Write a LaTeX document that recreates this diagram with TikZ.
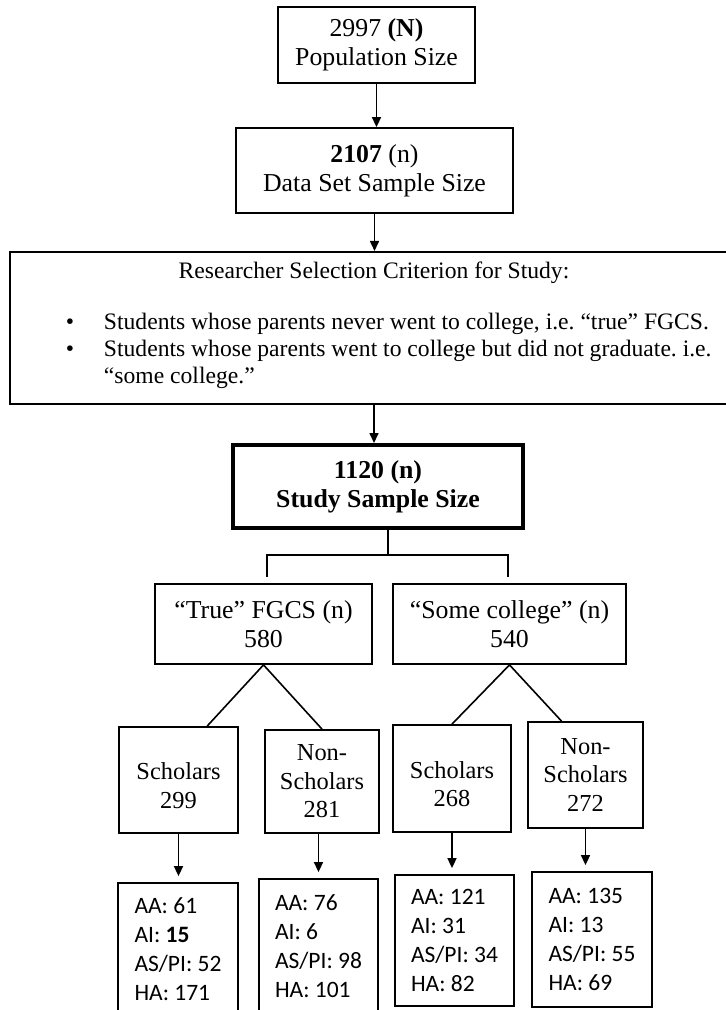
\documentclass[tikz,border=0pt]{standalone}
\usepackage{fontspec}
\setmainfont{Liberation Serif}
\newfontfamily\calfont{Carlito}
\usepackage{tikz}
\usetikzlibrary{arrows.meta, positioning}

\begin{document}
\begin{tikzpicture}[x=0.5pt, y=-0.5pt,
  box/.style={draw, line width=0.9pt, align=center, inner sep=0pt,
    font=\fontsize{12.9}{14.5}\selectfont},
  groupbox/.style={box, font=\fontsize{12.2}{14.3}\selectfont},
  countbox/.style={draw, line width=0.9pt, align=left, inner sep=0pt,
    font=\calfont\fontsize{11.75}{14.5}\selectfont},
  link/.style={line width=0.8pt},
  flow/.style={link, -{Triangle[length=5pt, width=4.5pt]}}]
  \useasboundingbox (0,0) rectangle (725,1010);
  % ---------- TOP CHAIN ----------
  \node[box, minimum width=98.5pt, minimum height=38pt] (pop) at (376.5,45)
    {2997 \textbf{(N)}\\Population Size};
  \node[box, minimum width=138.5pt, minimum height=42.5pt] (data) at (374.5,170.5)
    {\textbf{2107} (n)\\Data Set Sample Size};
  \node[box, line width=1pt, minimum width=364pt, minimum height=76pt] (crit) at (374,328)
    {\begin{minipage}{364pt}
      \fontsize{11.8}{13.5}\selectfont\frenchspacing
      \centering Researcher Selection Criterion for Study:\par\vspace{12pt}
      \leftskip=0pt \rightskip=0pt plus 1fil
      \hangindent=47pt \hangafter=1
      \noindent\hspace*{28pt}\makebox[19pt][l]{\textbullet}Students whose parents never went to college, i.e. “true” FGCS.\par
      \hangindent=47pt \hangafter=1
      \noindent\hspace*{28pt}\makebox[19pt][l]{\textbullet}Students whose parents went to college but did not graduate. i.e.\newline
      “some college.”\par\vspace{3pt}
    \end{minipage}};
  \node[box, line width=2pt, font=\bfseries\fontsize{12.9}{14.5}\selectfont,
    minimum width=145pt, minimum height=41.5pt] (study) at (378,486.5)
    {1120 (n)\\Study Sample Size};
  \draw[flow] (pop.south) -- (pop.south |- data.north);
  \draw[flow] (data.south) -- (data.south |- crit.north);
  \draw[flow] (crit.south) -- (crit.south |- study.north);
  % ---------- GROUPS ----------
  \node[box, minimum width=108.5pt, minimum height=40pt] (tf) at (263.5,624)
    {“True” FGCS (n)\\580};
  \node[box, minimum width=116.5pt, minimum height=40pt] (sc) at (509.5,624)
    {“Some college” (n)\\540};
  \coordinate (split) at (388,555);
  \coordinate (tfdrop) at (267,577);
  \coordinate (scdrop) at (508,577);
  \draw[link] (split |- study.south) -- (split);
  \draw[link] (tfdrop) |- (split) -| (scdrop);
  % ---------- SCHOLARS / NON-SCHOLARS ----------
  \node[groupbox, minimum width=59.5pt, minimum height=53pt] (s1) at (178.5,780)
    {\mbox{}\\Scholars\\299};
  \node[groupbox, minimum width=57pt, minimum height=51.5pt] (n1) at (322,781.5)
    {Non-\\Scholars\\281};
  \node[groupbox, minimum width=59pt, minimum height=53.5pt] (s2) at (452,778.5)
    {\mbox{}\\Scholars\\268};
  \node[groupbox, minimum width=57.5pt, minimum height=53pt] (n2) at (585.5,775)
    {Non-\\Scholars\\272};
  \draw[link] (s1.62) -- (tf.south) -- (n1.north);
  \draw[link] (s2.north) -- (sc.south) -- (n2.114);
  % ---------- COUNTS ----------
  \node[countbox, minimum width=60pt, minimum height=66.5pt] (b1) at (178,949.5)
    {AA: 61\\AI: \textbf{15}\\AS/PI: 52\\HA: 171};
  \node[countbox, minimum width=59.5pt, minimum height=67.5pt] (b2) at (318.5,946.5)
    {AA: 76\\AI: 6\\AS/PI: 98\\HA: 101};
  \node[countbox, minimum width=59.5pt, minimum height=65.5pt] (b3) at (454.5,940.5)
    {AA: 121\\AI: 31\\AS/PI: 34\\HA: 82};
  \node[countbox, minimum width=60pt, minimum height=67.5pt] (b4) at (592,939.5)
    {AA: 135\\AI: 13\\AS/PI: 55\\HA: 69};
  \draw[flow, shorten >=3pt] (s1.south) -- (s1.south |- b1.north);
  \draw[flow, shorten >=3pt] (b2.north |- n1.south) -- (b2.north);
  \draw[flow, shorten >=3pt] (s2.south) -- (s2.south |- b3.north);
  \draw[flow, shorten >=3pt] (n2.south) -- (n2.south |- b4.north);
\end{tikzpicture}
\end{document}
